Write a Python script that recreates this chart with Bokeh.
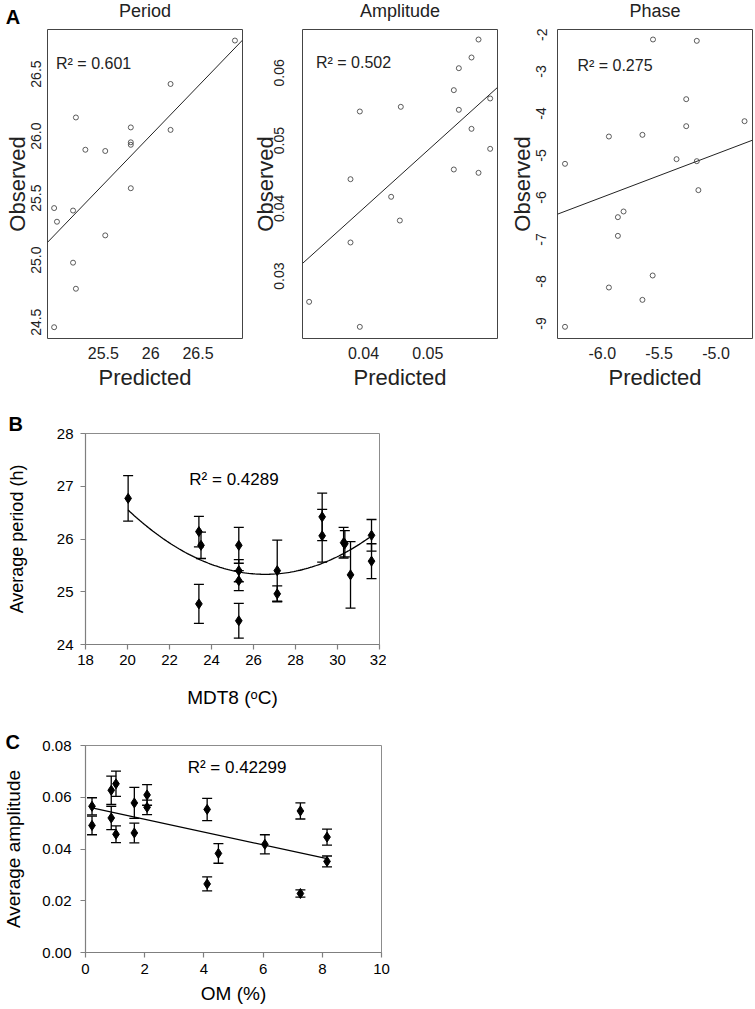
import numpy as np
from bokeh.plotting import figure
from bokeh.layouts import column, row
from bokeh.models import ColumnDataSource, FixedTicker, Whisker, TeeHead, Label, Range1d, Title
from bokeh.embed import file_html
from bokeh.resources import INLINE

FONT = "Liberation Sans"

# ---------------- Panel A data (Observed vs Predicted) ----------------
period_pred = [26.89, 26.21, 26.21, 25.21, 25.79, 25.79, 25.79, 25.31, 25.52,
               25.79, 24.98, 25.18, 25.01, 25.52, 25.18, 25.21, 24.98]
period_obs = [26.77, 26.42, 26.05, 26.15, 26.07, 25.95, 25.93, 25.89, 25.88,
              25.58, 25.42, 25.40, 25.31, 25.20, 24.98, 24.77, 24.46]
period_fit = [0.791, 5.44]          # slope, intercept
period_r2 = "R\u00b2 = 0.601"

amp_pred = [0.05788, 0.05679, 0.05482, 0.05404, 0.05482, 0.05969, 0.05679, 0.05969,
            0.05404, 0.05788, 0.04580, 0.03943, 0.03798, 0.04430, 0.04565, 0.03798,
            0.03155, 0.03943]
amp_obs = [0.06492, 0.06227, 0.06069, 0.05745, 0.05455, 0.05622, 0.05174, 0.04879,
           0.04574, 0.04525, 0.05499, 0.05430, 0.04431, 0.04171, 0.03821, 0.03497,
           0.02621, 0.02252]
amp_fit = [0.857, 0.00572]
amp_r2 = "R\u00b2 = 0.502"

phase_pred = [-5.554, -5.169, -5.262, -5.262, -4.749, -5.647, -5.942, -6.328, -5.347,
              -5.169, -5.155, -5.813, -5.863, -5.863, -5.557, -5.942, -5.647, -6.328]
phase_obs = [-2.238, -2.270, -3.659, -4.302, -4.183, -4.508, -4.548, -5.198, -5.087,
             -5.135, -5.825, -6.333, -6.468, -6.913, -7.857, -8.143, -8.437, -9.079]
phase_fit = [1.027, 0.170]
phase_r2 = "R\u00b2 = 0.275"

panel_titles = ["Period", "Amplitude", "Phase"]
period_xticks = [25.5, 26.0, 26.5]
period_xlabels = ["25.5", "26", "26.5"]
period_yticks = [24.5, 25.0, 25.5, 26.0, 26.5]
period_ylabels = ["24.5", "25.0", "25.5", "26.0", "26.5"]
amp_xticks = [0.04, 0.05]
amp_xlabels = ["0.04", "0.05"]
amp_yticks = [0.03, 0.04, 0.05, 0.06]
amp_ylabels = ["0.03", "0.04", "0.05", "0.06"]
phase_xticks = [-6.0, -5.5, -5.0]
phase_xlabels = ["-6.0", "-5.5", "-5.0"]
phase_yticks = [-9, -8, -7, -6, -5, -4, -3, -2]
phase_ylabels = ["-9", "-8", "-7", "-6", "-5", "-4", "-3", "-2"]

# ---------------- Panel B data (period vs MDT8) ----------------
mdt8 = [20.03, 23.40, 23.50, 23.40, 25.30, 25.30, 25.30, 25.30, 27.13, 27.13,
        29.27, 29.27, 30.29, 30.35, 30.62, 31.62, 31.62]
avg_period = [26.77, 26.14, 25.88, 24.77, 25.88, 25.40, 25.21, 24.45, 25.40, 24.96,
              26.42, 26.06, 25.93, 25.91, 25.32, 26.07, 25.58]
period_err = [0.43, 0.29, 0.25, 0.37, 0.34, 0.21, 0.19, 0.33, 0.58, 0.15,
              0.45, 0.50, 0.29, 0.25, 0.63, 0.30, 0.33]
period_quad = [0.02848, -1.5134, 45.436]   # c2, c1, c0
period_b_r2 = "R\u00b2 = 0.4289"
b_xticks = [18, 20, 22, 24, 26, 28, 30, 32]
b_yticks = [24, 25, 26, 27, 28]

# ---------------- Panel C data (amplitude vs OM) ----------------
om = [0.22, 0.22, 0.87, 0.87, 1.03, 1.03, 1.65, 1.65, 2.08, 2.08, 4.11, 4.49, 4.11,
      6.06, 7.26, 7.26, 8.16, 8.16]
avg_amp = [0.0565, 0.0491, 0.0627, 0.0520, 0.0652, 0.0457, 0.0578, 0.0462, 0.0609,
           0.0561, 0.0553, 0.0383, 0.0265, 0.0418, 0.0547, 0.0228, 0.0446, 0.0352]
amp_err = [0.0033, 0.0036, 0.0055, 0.0045, 0.0049, 0.0032, 0.0060, 0.0038, 0.0040,
           0.0028, 0.0043, 0.0038, 0.0027, 0.0037, 0.0031, 0.0014, 0.0031, 0.0021]
amp_c_fit = [-0.00247, 0.0564]
amp_c_r2 = "R\u00b2 = 0.42299"
c_xticks = [0, 2, 4, 6, 8, 10]
c_yticks = [0.0, 0.02, 0.04, 0.06, 0.08]
c_ylabels = ["0.00", "0.02", "0.04", "0.06", "0.08"]

# ---------------- layout constants (pixels) ----------------
A_LEFT = [47, 54, 52]
A_FW = [195, 195, 195]
A_RIGHT = [6, 8, 1]
A_YSTAND = [6, 18, 11]
A_LSTAND = [-1, -6, -1]
HDR_H = 28


def panel_a(xs, ys, fit, r2, xr, yr, xt, xl, yt, yl, r2pos, i):
    p = figure(frame_width=A_FW[i], frame_height=309,
               x_range=Range1d(*xr), y_range=Range1d(*yr),
               min_border_left=A_LEFT[i], min_border_right=A_RIGHT[i],
               min_border_top=1, min_border_bottom=54,
               output_backend="svg", toolbar_location=None, title=None)
    p.grid.visible = False
    p.outline_line_color = "#444444"
    p.outline_line_width = 1
    for ax, ticks, labels in ((p.xaxis[0], xt, xl), (p.yaxis[0], yt, yl)):
        ax.ticker = FixedTicker(ticks=ticks)
        ax.major_label_overrides = {t: l for t, l in zip(ticks, labels)}
        ax.axis_line_color = None
        ax.major_tick_line_color = None
        ax.minor_tick_line_color = None
        ax.major_tick_out = 0
        ax.major_tick_in = 0
        ax.major_label_text_font = FONT
        ax.major_label_text_color = "#222222"
        ax.axis_label_text_font = FONT
        ax.axis_label_text_font_size = "22px"
        ax.axis_label_text_font_style = "normal"
        ax.axis_label_text_color = "#222222"
    p.xaxis.axis_label = "Predicted"
    p.xaxis.major_label_text_font_size = "16px"
    p.xaxis.major_label_standoff = 8
    p.xaxis.axis_label_standoff = 3
    p.yaxis.axis_label = "Observed"
    p.yaxis.major_label_orientation = "vertical"
    p.yaxis.major_label_text_font_size = "14px"
    p.yaxis.major_label_standoff = A_YSTAND[i]
    p.yaxis.axis_label_standoff = A_LSTAND[i]

    lx = np.array([xr[0], xr[1]])
    p.line(lx, fit[0] * lx + fit[1], line_color="#222222", line_width=1)
    p.scatter(xs, ys, marker="circle", size=5, fill_color=None,
              line_color="#333333", line_width=0.8)
    p.add_layout(Label(x=r2pos[0], y=r2pos[1], text=r2, text_font=FONT,
                       text_font_size="16px", text_color="#222222",
                       text_align="left", text_baseline="middle"))
    return p


p1 = panel_a(period_pred, period_obs, period_fit, period_r2,
             (24.91, 26.97), (24.369, 26.859), period_xticks, period_xlabels,
             period_yticks, period_ylabels, (25.0, 26.585), 0)
p2 = panel_a(amp_pred, amp_obs, amp_fit, amp_r2,
             (0.03052, 0.06083), (0.0208, 0.0664), amp_xticks, amp_xlabels,
             amp_yticks, amp_ylabels, (0.03261, 0.06155), 1)
p3 = panel_a(phase_pred, phase_obs, phase_fit, phase_r2,
             (-6.394, -4.679), (-9.357, -2.0), phase_xticks, phase_xlabels,
             phase_yticks, phase_ylabels, (-6.219, -2.869), 2)

# header strip carrying the panel letter and the three titles
total_w = sum(A_LEFT) + sum(A_FW) + sum(A_RIGHT)
hdr = figure(width=total_w, height=HDR_H, x_range=Range1d(0, total_w),
             y_range=Range1d(HDR_H, 0), min_border=0, x_axis_type=None,
             y_axis_type=None, toolbar_location=None, output_backend="svg",
             title=None)
hdr.outline_line_color = None
hdr.grid.visible = False
hdr.add_layout(Label(x=12.5, y=16.5, text="A", text_font=FONT, text_font_size="20px",
                     text_font_style="bold", text_color="black",
                     text_align="center", text_baseline="middle"))
x0 = 0
for i, t in enumerate(panel_titles):
    cx_t = x0 + A_LEFT[i] + A_FW[i] / 2
    hdr.add_layout(Label(x=cx_t, y=10.0, text=t, text_font=FONT,
                         text_font_size="18px", text_color="#222222",
                         text_align="center", text_baseline="middle"))
    x0 += A_LEFT[i] + A_FW[i] + A_RIGHT[i]


def excel_axes(p, xt, yt, xl=None, yl=None):
    p.grid.visible = False
    p.outline_line_color = "#8c8c8c"
    p.outline_line_width = 1
    for ax, ticks, labels in ((p.xaxis[0], xt, xl), (p.yaxis[0], yt, yl)):
        ax.ticker = FixedTicker(ticks=ticks)
        if labels:
            ax.major_label_overrides = {t: l for t, l in zip(ticks, labels)}
        ax.axis_line_color = "#7f7f7f"
        ax.axis_line_width = 1.2
        ax.major_tick_line_color = "#7f7f7f"
        ax.major_tick_line_width = 1.2
        ax.minor_tick_line_color = None
        ax.major_tick_out = 5
        ax.major_tick_in = 0
        ax.major_label_text_font = FONT
        ax.major_label_text_font_size = "15px"
        ax.major_label_text_color = "black"
        ax.axis_label_text_font = FONT
        ax.axis_label_text_font_size = "19px"
        ax.axis_label_text_font_style = "normal"
        ax.axis_label_text_color = "black"


def errbars(p, xs, ys, es, fit_x, fit_y, r2, r2pos, letter, loff, lstand):
    src = ColumnDataSource(dict(x=xs, y=ys,
                                lo=[y - e for y, e in zip(ys, es)],
                                hi=[y + e for y, e in zip(ys, es)]))
    p.line(fit_x, fit_y, line_color="black", line_width=1.3)
    w = Whisker(source=src, base="x", lower="lo", upper="hi",
                line_color="black", line_width=1.3,
                lower_head=TeeHead(size=10, line_color="black", line_width=1.3),
                upper_head=TeeHead(size=10, line_color="black", line_width=1.3))
    p.add_layout(w)
    p.scatter("x", "y", source=src, marker="diamond", size=10,
              fill_color="black", line_color="black")
    p.add_layout(Label(x=r2pos[0], y=r2pos[1], text=r2, text_font=FONT,
                       text_font_size="17px", text_color="black",
                       text_align="center", text_baseline="middle"))
    p.add_layout(Title(text=letter, align="left", offset=loff, standoff=lstand,
                       text_font=FONT, text_font_size="20px",
                       text_font_style="bold", text_color="black"), "above")


pB = figure(frame_width=294, frame_height=211, x_range=Range1d(18, 32),
            y_range=Range1d(24, 28), min_border_left=82, min_border_right=10,
            min_border_top=41, min_border_bottom=68, output_backend="svg",
            toolbar_location=None, title=None)
excel_axes(pB, b_xticks, b_yticks)
pB.yaxis.major_label_standoff = 7
pB.yaxis.axis_label_standoff = 27
pB.yaxis.axis_label_text_font_size = "18px"
pB.xaxis.major_label_standoff = 5
pB.xaxis.axis_label_standoff = 19
pB.xaxis.axis_label = "MDT8 (\u1d52C)"
pB.yaxis.axis_label = "Average period (h)"
qx = np.linspace(min(mdt8), max(mdt8), 120)
qy = period_quad[0] * qx ** 2 + period_quad[1] * qx + period_quad[2]
errbars(pB, mdt8, avg_period, period_err, qx, qy, period_b_r2, (25.07, 27.12),
        "B", -77, -2)

pC = figure(frame_width=296, frame_height=207, x_range=Range1d(0, 10),
            y_range=Range1d(0, 0.08), min_border_left=85, min_border_right=10,
            min_border_top=33, min_border_bottom=52, output_backend="svg",
            toolbar_location=None, title=None)
excel_axes(pC, c_xticks, c_yticks, None, c_ylabels)
pC.yaxis.major_label_standoff = 9
pC.yaxis.axis_label_standoff = 15
pC.xaxis.major_label_standoff = 6
pC.xaxis.axis_label_standoff = 6
pC.xaxis.axis_label = "OM (%)"
pC.yaxis.axis_label = "Average amplitude"
cx = np.array([min(om), max(om)])
cy = amp_c_fit[0] * cx + amp_c_fit[1]
errbars(pC, om, avg_amp, amp_err, cx, cy, amp_c_r2, (5.12, 0.07135), "C", -80, -14)

layout = column(row(hdr), row(p1, p2, p3), pB, pC)
open("out.html", "w").write(file_html(layout, INLINE))
